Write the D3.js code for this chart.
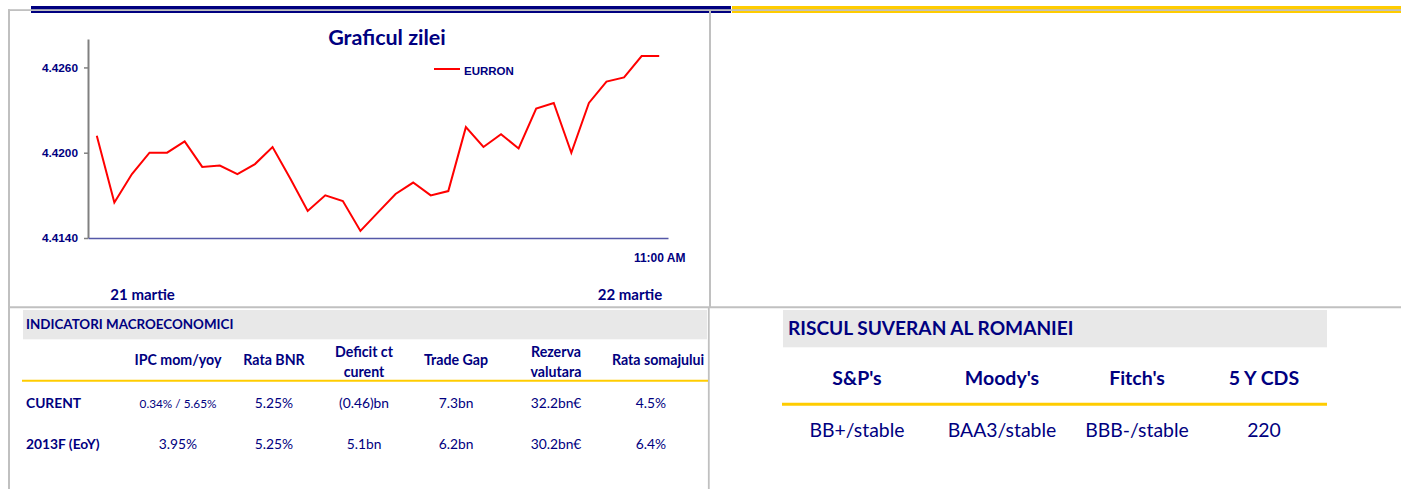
<!DOCTYPE html>
<html><head><meta charset="utf-8">
<script src="https://cdn.jsdelivr.net/npm/d3@7"></script>
<style>html,body{margin:0;padding:0;background:#fff;overflow:hidden}</style>
</head><body><svg id="c" width="1401" height="489"></svg>
<script>
const eurron = [4.4212, 4.4165, 4.4185, 4.4200, 4.4200, 4.4208, 4.4190, 4.4191, 4.4185, 4.4192,
  4.4204, 4.4182, 4.4159, 4.4170, 4.4166, 4.4145, 4.4158, 4.4171, 4.4179, 4.4170,
  4.4173, 4.4218, 4.4204, 4.4213, 4.4203, 4.4231, 4.4235, 4.4200, 4.4235, 4.4250,
  4.4253, 4.4268, 4.4268];
const yTicks = [4.4140, 4.4200, 4.4260];
const xTickLabels = ["11:00 AM"];
const dateLabels = ["21 martie", "22 martie"];
const chartTitle = "Graficul zilei";
const seriesName = "EURRON";
const macroTitle = "INDICATORI MACROECONOMICI";
const macroHeaders = [["IPC mom/yoy"], ["Rata BNR"], ["Deficit ct", "curent"], ["Trade Gap"], ["Rezerva", "valutara"], ["Rata somajului"]];
const macroRowLabels = ["CURENT", "2013F (EoY)"];
const macroCurent = ["0.34% / 5.65%", "5.25%", "(0.46)bn", "7.3bn", "32.2bn€", "4.5%"];
const macro2013 = ["3.95%", "5.25%", "5.1bn", "6.2bn", "30.2bn€", "6.4%"];
const riskTitle = "RISCUL SUVERAN AL ROMANIEI";
const riskHeaders = ["S&P's", "Moody's", "Fitch's", "5 Y CDS"];
const riskValues = ["BB+/stable", "BAA3/stable", "BBB-/stable", "220"];

const NAVY = "#000080", GRAY = "#c0c0c0", YELLOW = "#ffcc00", BAND = "#e8e8e8";
const CAL = "Lato, 'Open Sans', sans-serif", VER = "'Liberation Sans', Arial, sans-serif";
const svg = d3.select("#c");

// frame + top bar
svg.append("rect").attr("x", 31).attr("y", 6).attr("width", 700).attr("height", 7).attr("fill", NAVY);
svg.append("rect").attr("x", 732).attr("y", 6).attr("width", 669).attr("height", 7).attr("fill", YELLOW);
svg.append("rect").attr("x", 8).attr("y", 9.2).attr("width", 1393).attr("height", 1.8).attr("fill", GRAY);
const gl = (x1, y1, x2, y2, w) => svg.append("line").attr("x1", x1).attr("y1", y1).attr("x2", x2).attr("y2", y2).attr("stroke", GRAY).attr("stroke-width", w);
gl(9, 9.2, 9, 489, 2);
gl(710, 11, 710, 307, 2);
gl(8, 307.3, 1401, 307.3, 2);
gl(708.8, 307, 708.8, 489, 1.8);

// chart
const x = d3.scalePoint().domain(d3.range(eurron.length)).range([88, 668]).padding(0.5);
const y = d3.scaleLinear().domain([4.414, 4.428]).range([238, 39]);

const yAxis = svg.append("g").attr("transform", "translate(88,0)")
  .call(d3.axisLeft(y).tickValues(yTicks).tickFormat(d3.format(".4f")).tickSize(4).tickSizeOuter(0).tickPadding(6));
yAxis.select(".domain").attr("stroke", "#808080").attr("stroke-width", 2);
yAxis.selectAll(".tick line").attr("stroke", "#808080").attr("stroke-width", 1.5);
yAxis.selectAll("text").attr("fill", NAVY).attr("font-family", VER).attr("font-weight", "bold").attr("font-size", 11.8);

const xAxis = svg.append("g").attr("transform", "translate(0,238)")
  .call(d3.axisBottom(x).tickValues([eurron.length - 1]).tickFormat((d, i) => xTickLabels[i]).tickSize(0).tickSizeOuter(0).tickPadding(15));
xAxis.select(".domain").attr("stroke", "#5558a8").attr("stroke-width", 1.5);
xAxis.selectAll("text").attr("fill", NAVY).attr("font-family", VER).attr("font-weight", "bold").attr("font-size", 12);

svg.append("path").datum(eurron)
  .attr("d", d3.line().x((d, i) => x(i)).y(d => y(d)))
  .attr("fill", "none").attr("stroke", "#ff0000").attr("stroke-width", 2).attr("stroke-linejoin", "miter");

svg.append("text").attr("x", 387).attr("y", 45).attr("text-anchor", "middle")
  .attr("font-family", CAL).attr("font-weight", "bold").attr("font-size", 21.5).attr("fill", NAVY).text(chartTitle);

svg.append("line").attr("x1", 434).attr("x2", 460).attr("y1", 69).attr("y2", 69).attr("stroke", "#ff0000").attr("stroke-width", 2);
svg.append("text").attr("x", 464).attr("y", 74.5).attr("font-family", VER).attr("font-weight", "bold").attr("font-size", 11.5).attr("fill", NAVY).text(seriesName);

svg.append("text").attr("x", x(1) - 4).attr("y", 300).attr("font-family", CAL).attr("font-weight", "bold").attr("font-size", 15).attr("fill", NAVY).text(dateLabels[0]);
svg.append("text").attr("x", x(eurron.length - 1) + 3).attr("y", 300).attr("text-anchor", "end").attr("font-family", CAL).attr("font-weight", "bold").attr("font-size", 15).attr("fill", NAVY).text(dateLabels[1]);

// macro table
svg.append("rect").attr("x", 23).attr("y", 310).attr("width", 684).attr("height", 29.3).attr("fill", BAND);
svg.append("text").attr("x", 26).attr("y", 329).attr("font-family", CAL).attr("font-weight", "bold").attr("font-size", 13.4).attr("fill", NAVY).text(macroTitle);
const mx = d3.scaleOrdinal().domain(d3.range(6)).range([178, 274, 364, 456, 556, 651]);
macroHeaders.forEach((lines, i) => {
  const t = svg.append("text").attr("text-anchor", "middle").attr("font-family", CAL).attr("font-weight", "bold").attr("font-size", 14.2).attr("fill", NAVY);
  const cx = i === 5 ? 658 : mx(i);
  lines.forEach((l, j) => t.append("tspan").attr("x", cx).attr("y", lines.length === 1 ? 365 : 357 + j * 20).text(l));
});
svg.append("line").attr("x1", 22).attr("x2", 708).attr("y1", 380.7).attr("y2", 380.7).attr("stroke", YELLOW).attr("stroke-width", 2);
[macroCurent, macro2013].forEach((row, r) => {
  const by = r === 0 ? 408 : 449;
  svg.append("text").attr("x", 26).attr("y", by).attr("font-family", CAL).attr("font-weight", "bold").attr("font-size", 13.8).attr("fill", NAVY).text(macroRowLabels[r]);
  row.forEach((v, i) => svg.append("text").attr("x", mx(i)).attr("y", by).attr("text-anchor", "middle")
    .attr("font-family", CAL).attr("font-size", (r === 0 && i === 0) ? 11.8 : 13.8).attr("fill", NAVY).text(v));
});

// risk table
svg.append("rect").attr("x", 783).attr("y", 310).attr("width", 544).attr("height", 37.3).attr("fill", BAND);
svg.append("text").attr("x", 788).attr("y", 335).attr("font-family", CAL).attr("font-weight", "bold").attr("font-size", 19.1).attr("fill", NAVY).text(riskTitle);
const rx = d3.scaleOrdinal().domain(riskHeaders).range([857, 1002, 1137, 1264]);
riskHeaders.forEach(h => svg.append("text").attr("x", rx(h)).attr("y", 385).attr("text-anchor", "middle")
  .attr("font-family", CAL).attr("font-weight", "bold").attr("font-size", 19.5).attr("fill", NAVY).text(h));
svg.append("line").attr("x1", 782).attr("x2", 1327).attr("y1", 404.3).attr("y2", 404.3).attr("stroke", YELLOW).attr("stroke-width", 3);
riskValues.forEach((v, i) => svg.append("text").attr("x", rx(riskHeaders[i])).attr("y", 436.7).attr("text-anchor", "middle")
  .attr("font-family", CAL).attr("font-size", 19.4).attr("fill", NAVY).text(v));
</script></body></html>
